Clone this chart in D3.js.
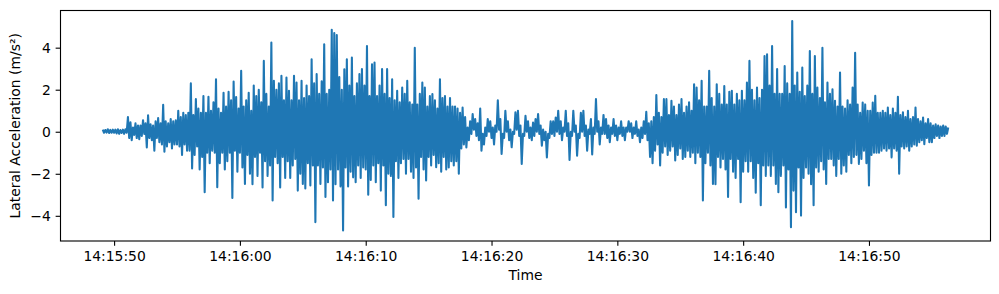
<!DOCTYPE html>
<html lang="en">
<head>
<meta charset="UTF-8">
<title>Lateral Acceleration</title>
<style>
    body{
        margin: 0;
        background-color: #fff;
    }
    svg{
        display: block;
        font-family: "DejaVu Sans", sans-serif;
    }
    .axis text{
        font-size: 13.9px;
        fill: #000;
    }
    .axis line{
        stroke: #000;
        stroke-width: 1.1px;
    }
</style>
</head>
<body>

<div id="chart"></div>

<script src="https://cdn.jsdelivr.net/npm/d3@7"></script>
<script>
    // sampled signal, one value every 0.1 s from 14:15:49.1
    var baseDate = "2024-01-01";
    var startTime = "14:15:49.100";
    var sampleMs = 100;

    var accel = [
        // 14:15:49.1 - 49.9
        0.1,-0.05,0.08,-0.04,0.12,-0.06,0.09,-0.05,0.1,
        // :50 .. :59
        -0.05,0.1,-0.08,0.12,-0.1,0.08,-0.06,0.1,-0.1,0.12,
        -0.05,0.7,-0.3,0.45,-0.4,0.2,-0.15,0.4,-0.3,0.3,
        -0.35,0.3,-0.2,0.55,-0.1,0.4,-0.75,0.78,-0.3,0.35,
        -0.4,0.3,-0.9,0.5,-0.3,0.65,-0.5,0.4,-0.6,1.28,
        -0.95,0.5,-0.7,0.4,-0.5,0.6,-0.8,0.5,-0.6,0.55,
        -0.6,1.0,-0.7,0.7,-1.1,0.9,-0.6,0.8,-0.9,0.9,
        -0.9,2.3,-1.75,0.8,-1.1,1.55,-0.7,1.1,-1.8,0.9,
        -1.2,1.7,-2.88,0.9,-1.0,1.66,-1.5,1.0,-0.9,1.4,
        -1.0,2.5,-2.64,1.1,-1.5,0.9,-1.0,1.85,-1.8,1.2,
        -1.4,1.9,-1.0,1.5,-3.15,2.39,-0.9,1.65,-1.9,1.1,
        // 14:16:00 ..
        -1.0,2.9,-1.7,1.2,-2.48,1.5,-1.1,1.85,-2.0,1.0,
        -2.5,2.2,-1.2,1.7,-2.1,2.0,-1.0,1.4,-2.65,3.37,
        -1.4,1.8,-2.1,1.2,-1.6,4.24,-3.27,2.42,-1.2,2.0,
        -1.5,2.3,-2.65,2.66,-1.2,1.5,-2.2,2.58,-1.4,1.95,
        -2.2,1.5,-1.6,2.66,-1.3,2.34,-2.8,1.5,-2.0,2.42,
        -2.48,1.6,-2.7,2.2,-1.5,1.7,-2.56,3.45,-1.6,2.3,
        -4.3,2.74,-1.6,1.8,-2.48,2.4,-1.7,4.16,-3.1,1.8,
        -2.4,2.0,-1.8,4.85,-3.27,4.7,-2.5,4.6,-1.8,2.6,
        -2.6,2.0,-4.7,2.97,-1.7,3.45,-2.6,2.2,-1.9,3.53,
        -2.17,1.7,-2.4,2.3,-1.6,2.75,-2.2,2.98,-1.7,2.2,
        // 14:16:10 ..
        -1.8,4.08,-3.0,1.7,-2.3,3.21,-1.6,3.29,-2.4,1.7,
        -1.5,2.2,-2.8,2.98,-1.6,1.8,-3.5,2.98,-2.0,1.6,
        -2.1,2.5,-4.06,1.5,-1.4,1.95,-2.2,1.4,-1.5,2.1,
        -1.3,1.8,-2.0,2.42,-1.3,1.4,-1.9,1.3,-2.2,4.0,
        -1.7,1.3,-3.19,1.8,-1.2,2.34,-1.8,2.1,-2.32,1.2,
        -1.2,1.7,-1.6,1.79,-1.1,1.5,-1.69,1.1,-1.5,2.5,
        -1.9,1.6,-1.2,1.7,-1.8,1.2,-1.7,1.6,-1.4,1.2,
        -1.6,1.2,-1.4,1.1,-2.0,0.9,-0.8,1.15,-0.6,0.7,
        -0.75,0.2,-0.4,0.5,-0.1,0.84,0.1,0.6,-0.2,0.4,
        -0.4,1.1,-0.9,-0.1,-0.6,0.2,-0.2,0.6,0.0,0.5,
        // 14:16:20 ..
        -0.3,0.2,-0.6,0.3,0.0,1.5,0.1,0.6,-1.06,-0.1,
        -0.3,1.0,0.0,0.5,-0.4,0.1,-0.74,0.0,-0.1,0.92,
        0.1,1.0,-0.2,0.3,-1.53,-0.1,-0.2,0.76,0.0,0.5,
        -0.3,0.2,-0.4,0.44,-0.2,0.6,0.0,0.84,-0.1,0.3,
        -0.66,0.1,-0.4,0.0,-1.22,-0.1,-0.3,0.5,-0.1,0.5,
        -0.2,0.68,0.0,1.0,-0.1,0.5,-0.4,0.2,0.0,1.0,
        -0.2,0.4,-1.34,0.0,-0.2,1.0,0.0,0.3,-1.14,-0.1,
        -0.3,0.9,0.0,1.0,-0.2,0.3,-0.9,0.1,-0.1,0.6,
        -1.08,0.2,-0.1,1.55,0.0,0.5,-0.6,0.2,-0.1,0.8,
        -0.1,0.6,-0.3,0.3,-0.5,0.2,-0.1,0.6,-0.2,0.3,
        // 14:16:30 ..
        -0.4,0.2,-0.1,0.5,-0.2,0.2,-0.4,0.2,0.0,0.5,
        0.0,0.4,-0.3,0.2,-0.1,0.5,-0.2,0.1,-0.5,0.2,
        -0.3,0.5,-0.1,0.95,-0.4,0.4,-1.2,0.5,-1.5,0.7,
        -0.9,1.75,-0.6,0.9,-1.6,0.7,-1.0,1.55,-0.7,1.55,
        -1.1,0.8,-0.9,1.47,-0.7,1.2,-1.37,0.8,-1.1,1.3,
        -0.8,1.55,-1.3,0.9,-1.2,1.2,-0.9,1.4,-1.2,1.0,
        -1.0,2.26,-1.5,2.1,-1.0,1.5,-1.2,2.42,-3.27,1.2,
        -1.5,1.2,-1.0,2.9,-1.6,1.6,-2.48,1.2,-2.5,2.26,
        -1.2,1.8,-1.7,1.3,-1.3,2.18,-1.8,1.3,-3.1,1.9,
        -1.3,1.95,-1.9,1.3,-2.2,1.8,-1.3,1.5,-3.35,1.95,
        // 14:16:40 ..
        -1.9,1.5,-1.4,2.34,-1.9,3.37,-1.4,2.0,-2.2,1.5,
        -2.9,2.1,-1.5,1.6,-3.5,2.0,-1.6,3.6,-2.1,3.68,
        -1.6,2.2,-2.1,4.08,-1.6,1.8,-2.48,2.98,-2.88,1.8,
        -2.1,1.8,-1.6,3.13,-3.6,2.3,-1.8,1.8,-4.54,5.27,
        -2.8,2.2,-3.83,2.82,-1.7,1.9,-3.99,3.05,-2.2,1.7,
        -1.7,2.2,-2.0,3.84,-2.5,1.8,-3.5,3.6,-1.7,2.1,
        -1.9,1.6,-1.4,4.0,-1.8,1.4,-2.48,2.34,-1.3,1.8,
        -1.3,2.02,-1.6,1.47,-2.1,1.2,-1.3,2.82,-2.0,1.2,
        -1.6,1.1,-1.9,1.5,-1.1,1.3,-1.5,2.1,-1.2,3.76,
        -1.1,1.3,-1.53,0.9,-1.3,1.39,-0.9,1.3,-1.5,1.0,
        // 14:16:50 ..
        -2.56,1.0,-1.1,1.39,-1.0,1.71,-1.0,0.9,-1.0,0.9,
        -0.9,1.0,-0.8,0.9,-0.9,1.15,-0.8,0.8,-1.22,1.1,
        -0.8,0.9,-0.9,1.66,-2.0,0.8,-0.7,0.92,-0.8,0.7,
        -0.7,1.0,-0.9,0.6,-0.7,0.7,-0.6,1.15,-0.66,0.6,
        -0.5,0.5,-0.4,0.68,-0.59,0.4,-0.3,0.6,-0.5,0.4,
        -0.5,0.3,-0.3,0.35,-0.2,0.3,-0.3,0.25,-0.2,0.3,
        -0.2,0.25,-0.1,0.2
    ];

    var xTickLabels = ["14:15:50", "14:16:00", "14:16:10", "14:16:20", "14:16:30", "14:16:40", "14:16:50"];
    var yTickValues = [-4, -2, 0, 2, 4];

    var width = 999, height = 294;
    var plotLeft = 60.5, plotRight = 990.5, plotTop = 10.5, plotBottom = 241;
    var pt = 100 / 72;

    var parseTime = d3.timeParse("%Y-%m-%d %H:%M:%S.%L");
    var parseTick = d3.timeParse("%Y-%m-%d %H:%M:%S");
    var t0 = parseTime(baseDate + " " + startTime);

    var data = accel.map(function(v, i){
        return {t: new Date(t0.getTime() + i * sampleMs), v: v};
    });

    var svg = d3.select('#chart')
        .append('svg')
        .attr('width', width)
        .attr('height', height);

    // matplotlib style 5% margins
    var tExt = d3.extent(data, function(d){ return d.t.getTime(); });
    var tPad = (tExt[1] - tExt[0]) * 0.05;
    var vExt = d3.extent(data, function(d){ return d.v; });
    var vPad = (vExt[1] - vExt[0]) * 0.05;

    var xScale = d3.scaleTime()
        .domain([new Date(tExt[0] - tPad), new Date(tExt[1] + tPad)])
        .range([plotLeft, plotRight]);

    var yScale = d3.scaleLinear()
        .domain([vExt[0] - vPad, vExt[1] + vPad])
        .range([plotBottom, plotTop]);

    var line = d3.line()
        .x(function(d){ return xScale(d.t); })
        .y(function(d){ return yScale(d.v); });

    svg.append('path')
        .datum(data)
        .attr('d', line)
        .attr('fill', 'none')
        .attr('stroke', '#1f77b4')
        .attr('stroke-width', 1.5 * pt)
        .attr('stroke-linejoin', 'round');

    //Bottom Axis
    var xAxis = d3.axisBottom(xScale)
        .tickValues(xTickLabels.map(function(s){ return parseTick(baseDate + " " + s); }))
        .tickFormat(d3.timeFormat("%H:%M:%S"))
        .tickSize(3.5 * pt)
        .tickSizeOuter(0)
        .tickPadding(3.5 * pt);

    var xAxisG = svg.append('g')
        .attr('class', 'axis')
        .attr('transform', 'translate(0,' + plotBottom + ')')
        .call(xAxis);
    xAxisG.select('.domain').remove();

    //Left Axis
    var yAxis = d3.axisLeft(yScale)
        .tickValues(yTickValues)
        .tickSize(3.5 * pt)
        .tickSizeOuter(0)
        .tickPadding(3.5 * pt);

    var yAxisG = svg.append('g')
        .attr('class', 'axis')
        .attr('transform', 'translate(' + plotLeft + ',0)')
        .call(yAxis);
    yAxisG.select('.domain').remove();

    svg.selectAll('.axis').attr('font-family', null).attr('font-size', null);

    // frame
    svg.append('rect')
        .attr('x', plotLeft)
        .attr('y', plotTop)
        .attr('width', plotRight - plotLeft)
        .attr('height', plotBottom - plotTop)
        .attr('fill', 'none')
        .attr('stroke', '#000')
        .attr('stroke-width', 0.8 * pt);

    // axis labels
    svg.append('text')
        .attr('x', (plotLeft + plotRight) / 2)
        .attr('y', 280)
        .attr('text-anchor', 'middle')
        .attr('font-size', '13.9px')
        .text('Time');

    svg.append('text')
        .attr('transform', 'translate(20,' + (plotTop + plotBottom) / 2 + ') rotate(-90)')
        .attr('text-anchor', 'middle')
        .attr('font-size', '13.9px')
        .text('Lateral Acceleration (m/s²)');
</script>

</body>
</html>
